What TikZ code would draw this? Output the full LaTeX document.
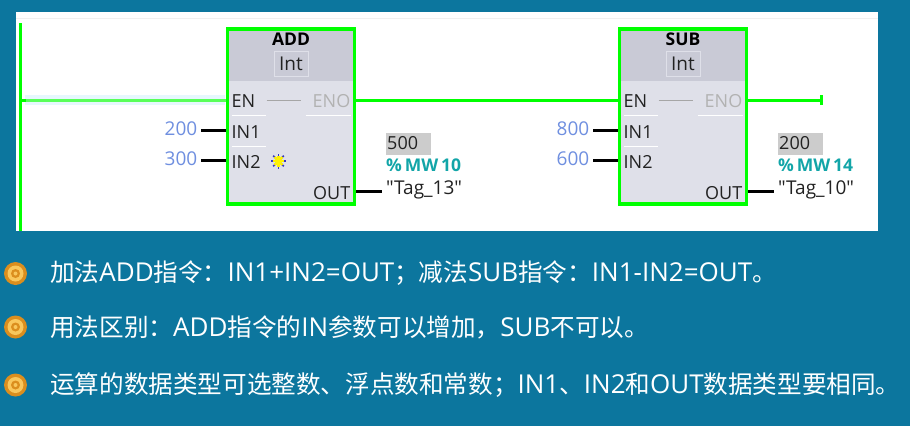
\documentclass[tikz,border=0pt]{standalone}
\usepackage{fontspec}
\setmainfont{Open Sans}
\newfontfamily\tagfont{Open Sans}
\newfontfamily\cjk{Noto Sans CJK SC}
\usetikzlibrary{calc, positioning}

% Latin runs inside the notes
\newcommand{\lat}[1]{{\rmfamily\fontsize{26}{28}\selectfont #1}}

\tikzset{
    blockBox/.style={draw=railColour, fill=bodyColour, line width=3.5pt, minimum width=127pt, minimum height=175pt, inner sep=0pt},
    blockHead/.style={fill=headColour, minimum width=123.5pt, minimum height=50.5pt, inner sep=0pt},
    pinText/.style={inner sep=0pt, font=\fontsize{18}{20}\selectfont, text=pinColour},
    valueText/.style={inner sep=0pt, font=\fontsize{19}{22}\selectfont, text=valueColour},
    tagText/.style={inner sep=0pt, anchor=west, font=\tagfont\fontsize{19}{20}\selectfont, text=pinColour},
    pinLine/.style={line width=3pt, black},
    rung/.style={railColour, line width=3pt},
    bulletDot/.style={circle, inner sep=0pt, minimum size=#1},
    noteText/.style={anchor=west, inner sep=0pt, text=white, font=\cjk\fontsize{24.6}{28}\selectfont}
}

\begin{document}
\begin{tikzpicture}[x=1pt, y=-1pt]
    % Define colours
    \definecolor{backColour}{HTML}{0C769E}
    \definecolor{railColour}{HTML}{00FF00}
    \definecolor{headColour}{HTML}{C9CAD6}
    \definecolor{bodyColour}{HTML}{DFE0E9}
    \definecolor{pinColour}{HTML}{222222}
    \definecolor{valueColour}{HTML}{6F8FE0}
    \definecolor{teal}{HTML}{12A5A8}
    \definecolor{bulletDark}{HTML}{DB8E1E}
    \definecolor{bulletLight}{HTML}{F9C75C}

    \useasboundingbox (0,0) rectangle (910,426);
    \fill[backColour] (0,0) rectangle (910,426);

    % Draw the white network area
    \fill[white] (16,12) rectangle (878,231);
    \draw[gray!12, line width=1pt] (16,18) -- (878,18);

    % Draw the rail
    \coordinate (railTop) at (20,23);
    \coordinate (railBottom) at (20,231);
    \draw[rung] (railTop) -- (railBottom);

    % Draw both blocks
    \foreach \name/\x/\title/\valA/\valB/\result/\addr/\tag in {add/225.5/ADD/200/300/500/10/13, sub/617.5/SUB/800/600/200/14/10} {
        \node[blockBox, anchor=north west] (\name Block) at (\x,27) {};
        \node[blockHead, anchor=north] (\name Head) at ($(\name Block.north)+(0,3.5)$) {};
        \node[inner sep=0pt, font=\bfseries\fontsize{17.5}{20}\selectfont, text=black] (\name Title) at (\x+65.5,39.5) {\title};
        \node[draw=bodyColour, inner sep=0pt, minimum width=34pt, minimum height=25pt, font=\fontsize{19}{20}\selectfont, text=pinColour] (\name Type) at (\x+65.5,64) {Int};

        % Pins
        \node[pinText, anchor=west] (\name En) at (\x+6,101) {EN};
        \node[pinText, anchor=east, text=gray!60] (\name Eno) at (\x+125,101) {ENO};
        \node[pinText, anchor=west] (\name InA) at (\x+6,132) {IN1};
        \node[pinText, anchor=west] (\name InB) at (\x+6,162) {IN2};
        \node[pinText, anchor=east] (\name Out) at (\x+125,193) {OUT};
        \draw[gray!70, line width=1pt] (\x+41,100) -- (\x+75,100);
        \draw[white, line width=1pt] (\x+6,115) -- (\x+40,115);
        \draw[white, line width=1pt] (\x+80,115) -- (\x+125,115);
        \draw[white, line width=1pt] (\x+6,146) -- (\x+40,146);

        % Inputs
        \node[valueText, anchor=east] (\name ValA) at (\x-28,129) {\valA};
        \node[valueText, anchor=east] (\name ValB) at (\x-28,159) {\valB};
        \coordinate (\name StubA) at (\x-24.5,130);
        \coordinate (\name StubB) at (\x-24.5,160);
        \draw[pinLine] (\name StubA) -- (\name StubA -| \name Block.west);
        \draw[pinLine] (\name StubB) -- (\name StubB -| \name Block.west);

        % Output
        \node[fill=gray!40, inner sep=0pt, minimum width=45pt, minimum height=22pt, anchor=north west] (\name Result) at (\x+160.5,133) {};
        \node[valueText, anchor=west, text=pinColour, font=\fontsize{18}{22}\selectfont] at (\x+161.5,143) {\result};
        \node[tagText, text=teal, font=\bfseries\fontsize{17.5}{20}\selectfont] (\name Addr) at (\x+160.5,165) {\%\,MW\,\addr};
        \node[tagText] (\name Tag) at (\x+160.5,190) {"Tag\_\tag"};
        \coordinate (\name StubOut) at (\x+156.5,191);
        \draw[pinLine] (\name StubOut -| \name Block.east) -- (\name StubOut);
    }

    % Draw the rung
    \coordinate (rungStart) at (20,100);
    \coordinate (rungEnd) at (821,100);
    \fill[cyan!10] (25,95) rectangle (224.5,105);
    \draw[rung, railColour!65!white] (rungStart) -- (rungStart -| addBlock.west);
    \draw[rung] (rungStart) -- +(6,0);
    \draw[rung] (addBlock.east |- rungStart) -- (subBlock.west |- rungStart);
    \draw[rung] (subBlock.east |- rungStart) -- (rungEnd);
    \draw[railColour, line width=3pt] ($(rungEnd)+(0,-5)$) -- ($(rungEnd)+(0,5)$);

    % Draw the marker beside IN2
    \coordinate (marker) at (278.5,161);
    \foreach \a in {0,45,...,315}
        \draw[blue!55!gray, line width=1.6pt] (marker) -- +(\a:7.5);
    \foreach \a in {0,45,...,315}
        \draw[yellow, line width=2.4pt] (marker) -- +(\a:5.5);

    % Draw the notes
    \foreach \n/\y/\note in {1/273.5/加法\lat{ADD}指令：\lat{IN1+IN2=OUT}；减法\lat{SUB}指令：\lat{IN1-IN2=OUT}。, 2/327/用法区别：\lat{ADD}指令的\lat{IN}参数可以增加，\lat{SUB}不可以。, 3/385/运算的数据类型可选整数、浮点数和常数；\lat{IN1}、\lat{IN2}和\lat{OUT}数据类型要相同。} {
        \node[bulletDot=23pt, fill=bulletDark] (bullet\n) at (15.5,\y) {};
        \node[bulletDot=16pt, fill=bulletLight] at (bullet\n) {};
        \node[bulletDot=9pt, fill=bulletDark] at (bullet\n) {};
        \node[bulletDot=4pt, fill=bulletLight] at (bullet\n) {};
        \node[noteText] (note\n) at (50,\y) {\note};
    }
\end{tikzpicture}
\end{document}
